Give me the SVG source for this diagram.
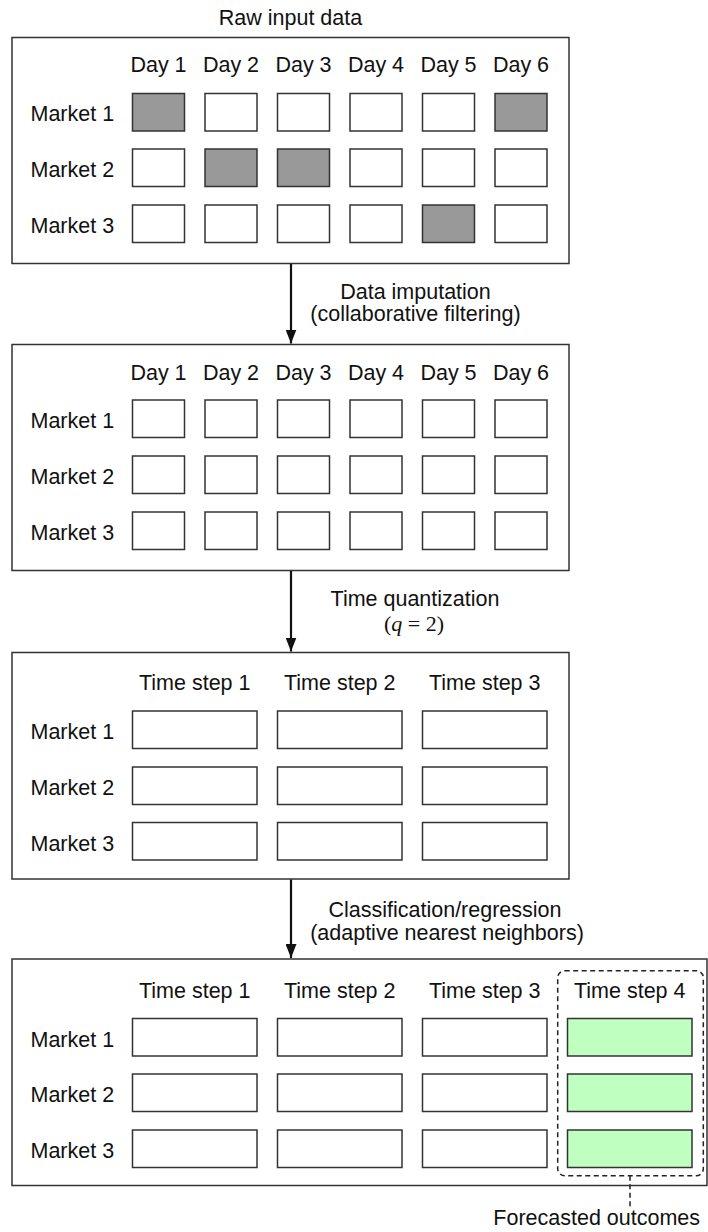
<svg xmlns="http://www.w3.org/2000/svg" width="708" height="1232" viewBox="0 0 708 1232">
<style>
text{font-family:"Liberation Sans",Arial,sans-serif;font-size:21.5px;fill:#111}
.c{text-anchor:middle}
.panel{fill:#fff;stroke:#333;stroke-width:1.5}
.cell{fill:#fff;stroke:#333;stroke-width:1.5}
.miss{fill:#999}
.fc{fill:#bfffbf}
.arrow{stroke:#111;stroke-width:2.2;fill:none}
.math{font-family:"Liberation Serif","Times New Roman",serif;font-size:22px}
</style>
<defs>
<marker id="ah" markerWidth="14" markerHeight="11" refX="14" refY="5.5" orient="auto" markerUnits="userSpaceOnUse" viewBox="0 0 14 11">
<path d="M0,0 L14,5.5 L0,11 Z" fill="#111"/>
</marker>
</defs>
<text class="c" x="290.5" y="25">Raw input data</text>
<g id="panel1">
<rect class="panel" x="12" y="37.5" width="557" height="226"/>
<text class="c" x="158.5" y="72">Day 1</text><text class="c" x="231" y="72">Day 2</text><text class="c" x="303.5" y="72">Day 3</text><text class="c" x="376" y="72">Day 4</text><text class="c" x="448.5" y="72">Day 5</text><text class="c" x="521" y="72">Day 6</text>
<text x="30.5" y="121">Market 1</text><text x="30.5" y="177">Market 2</text><text x="30.5" y="233">Market 3</text>
<rect class="cell miss" x="132.5" y="93.5" width="52" height="37.5"/><rect class="cell" x="205" y="93.5" width="52" height="37.5"/><rect class="cell" x="277.5" y="93.5" width="52" height="37.5"/><rect class="cell" x="350" y="93.5" width="52" height="37.5"/><rect class="cell" x="422.5" y="93.5" width="52" height="37.5"/><rect class="cell miss" x="495" y="93.5" width="52" height="37.5"/>
<rect class="cell" x="132.5" y="149" width="52" height="37.5"/><rect class="cell miss" x="205" y="149" width="52" height="37.5"/><rect class="cell miss" x="277.5" y="149" width="52" height="37.5"/><rect class="cell" x="350" y="149" width="52" height="37.5"/><rect class="cell" x="422.5" y="149" width="52" height="37.5"/><rect class="cell" x="495" y="149" width="52" height="37.5"/>
<rect class="cell" x="132.5" y="205" width="52" height="37.5"/><rect class="cell" x="205" y="205" width="52" height="37.5"/><rect class="cell" x="277.5" y="205" width="52" height="37.5"/><rect class="cell" x="350" y="205" width="52" height="37.5"/><rect class="cell miss" x="422.5" y="205" width="52" height="37.5"/><rect class="cell" x="495" y="205" width="52" height="37.5"/>
</g>
<g id="panel2">
<rect class="panel" x="12" y="344.5" width="557" height="226"/>
<text class="c" x="158.5" y="380">Day 1</text><text class="c" x="231" y="380">Day 2</text><text class="c" x="303.5" y="380">Day 3</text><text class="c" x="376" y="380">Day 4</text><text class="c" x="448.5" y="380">Day 5</text><text class="c" x="521" y="380">Day 6</text>
<text x="30.5" y="428">Market 1</text><text x="30.5" y="484">Market 2</text><text x="30.5" y="540">Market 3</text>
<rect class="cell" x="132.5" y="400" width="52" height="37.5"/><rect class="cell" x="205" y="400" width="52" height="37.5"/><rect class="cell" x="277.5" y="400" width="52" height="37.5"/><rect class="cell" x="350" y="400" width="52" height="37.5"/><rect class="cell" x="422.5" y="400" width="52" height="37.5"/><rect class="cell" x="495" y="400" width="52" height="37.5"/>
<rect class="cell" x="132.5" y="456" width="52" height="37.5"/><rect class="cell" x="205" y="456" width="52" height="37.5"/><rect class="cell" x="277.5" y="456" width="52" height="37.5"/><rect class="cell" x="350" y="456" width="52" height="37.5"/><rect class="cell" x="422.5" y="456" width="52" height="37.5"/><rect class="cell" x="495" y="456" width="52" height="37.5"/>
<rect class="cell" x="132.5" y="512" width="52" height="37.5"/><rect class="cell" x="205" y="512" width="52" height="37.5"/><rect class="cell" x="277.5" y="512" width="52" height="37.5"/><rect class="cell" x="350" y="512" width="52" height="37.5"/><rect class="cell" x="422.5" y="512" width="52" height="37.5"/><rect class="cell" x="495" y="512" width="52" height="37.5"/>
</g>
<g id="panel3">
<rect class="panel" x="12" y="652.5" width="557" height="226.5"/>
<text class="c" x="194.75" y="690">Time step 1</text><text class="c" x="339.75" y="690">Time step 2</text><text class="c" x="484.75" y="690">Time step 3</text>
<text x="30.5" y="739">Market 1</text><text x="30.5" y="795">Market 2</text><text x="30.5" y="850.5">Market 3</text>
<rect class="cell" x="132.5" y="711" width="124.5" height="37.5"/><rect class="cell" x="277.5" y="711" width="124.5" height="37.5"/><rect class="cell" x="422.5" y="711" width="124.5" height="37.5"/>
<rect class="cell" x="132.5" y="767" width="124.5" height="37.5"/><rect class="cell" x="277.5" y="767" width="124.5" height="37.5"/><rect class="cell" x="422.5" y="767" width="124.5" height="37.5"/>
<rect class="cell" x="132.5" y="822.5" width="124.5" height="37.5"/><rect class="cell" x="277.5" y="822.5" width="124.5" height="37.5"/><rect class="cell" x="422.5" y="822.5" width="124.5" height="37.5"/>
</g>
<g id="panel4">
<rect class="panel" x="12" y="959" width="695" height="226.5"/>
<text class="c" x="194.75" y="997.5">Time step 1</text><text class="c" x="339.75" y="997.5">Time step 2</text><text class="c" x="484.75" y="997.5">Time step 3</text><text class="c" x="629.75" y="997.5">Time step 4</text>
<text x="30.5" y="1046.5">Market 1</text><text x="30.5" y="1102">Market 2</text><text x="30.5" y="1158">Market 3</text>
<rect class="cell" x="132.5" y="1018.5" width="124.5" height="37.5"/><rect class="cell" x="277.5" y="1018.5" width="124.5" height="37.5"/><rect class="cell" x="422.5" y="1018.5" width="124.5" height="37.5"/><rect class="cell fc" x="567.5" y="1018.5" width="124.5" height="37.5"/>
<rect class="cell" x="132.5" y="1074" width="124.5" height="37.5"/><rect class="cell" x="277.5" y="1074" width="124.5" height="37.5"/><rect class="cell" x="422.5" y="1074" width="124.5" height="37.5"/><rect class="cell fc" x="567.5" y="1074" width="124.5" height="37.5"/>
<rect class="cell" x="132.5" y="1130" width="124.5" height="37.5"/><rect class="cell" x="277.5" y="1130" width="124.5" height="37.5"/><rect class="cell" x="422.5" y="1130" width="124.5" height="37.5"/><rect class="cell fc" x="567.5" y="1130" width="124.5" height="37.5"/>
</g>
<g id="forecast">
<rect x="557.7" y="970.7" width="145.6" height="205" rx="7" fill="none" stroke="#222" stroke-width="1.5" stroke-dasharray="5,3.5"/>
<line x1="630" y1="1175.7" x2="630" y2="1207" stroke="#222" stroke-width="1.5" stroke-dasharray="5,3.5"/>
<text x="493.3" y="1225">Forecasted outcomes</text>
</g>
<g id="connectors">
<line class="arrow" x1="291" y1="264" x2="291" y2="343.5" marker-end="url(#ah)"/>
<line class="arrow" x1="291" y1="571" x2="291" y2="651.5" marker-end="url(#ah)"/>
<line class="arrow" x1="291" y1="879.5" x2="291" y2="958" marker-end="url(#ah)"/>
<text class="c" x="415.5" y="299">Data imputation</text>
<text class="c" x="415.5" y="321">(collaborative filtering)</text>
<text class="c" x="415" y="606">Time quantization</text>
<text class="c math" x="414" y="631">(<tspan font-style="italic">q</tspan> = 2)</text>
<text class="c" x="445" y="917">Classification/regression</text>
<text class="c" x="447" y="940">(adaptive nearest neighbors)</text>
</g>
</svg>
